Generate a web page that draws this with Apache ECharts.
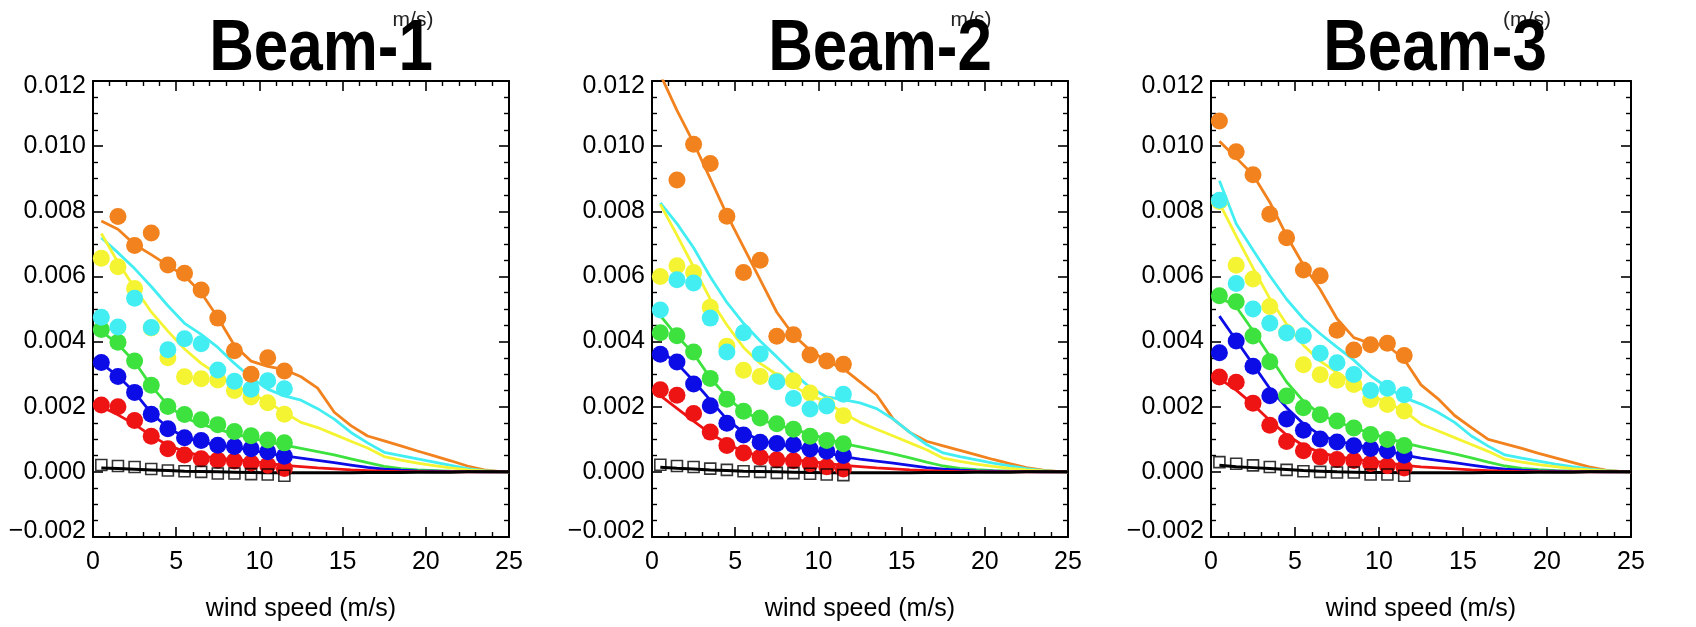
<!DOCTYPE html>
<html><head><meta charset="utf-8">
<script src="https://cdn.jsdelivr.net/npm/echarts@6/dist/echarts.min.js"></script>
<style>html,body{margin:0;padding:0;background:#fff}#c{width:1696px;height:627px}</style>
</head><body><div id="c"></div>
<script>
// ---------- data ----------
const TITLES = ['Beam-1', 'Beam-2', 'Beam-3'];
const X_TICKS = [0, 5, 10, 15, 20, 25];
const Y_TICKS = [-0.002, 0.000, 0.002, 0.004, 0.006, 0.008, 0.010, 0.012];
const DOT_X = [0.5, 1.5, 2.5, 3.5, 4.5, 5.5, 6.5, 7.5, 8.5, 9.5, 10.5, 11.5];
const LINE_X = [0.5, 1.5, 2.5, 3.5, 4.5, 5.5, 6.5, 7.5, 8.5, 9.5, 10.5, 11.5, 12.5, 13.5, 14.5, 15.5, 16.5, 17.5, 18.5, 19.5, 20.5, 21.5, 22.5, 23.5, 24.5, 25];

// Beam-1 model lines
const B1_LINE_ORANGE = [0.00770,0.00745,0.00698,0.00667,0.00634,0.00602,0.00550,0.00474,0.00388,0.00340,0.00324,0.00314,0.00292,0.00257,0.00183,0.00142,0.00110,0.00095,0.00080,0.00064,0.00049,0.00034,0.00018,0.00006,0.00001,0];
const B1_LINE_CYAN   = [0.00719,0.00673,0.00624,0.00569,0.00510,0.00456,0.00422,0.00382,0.00333,0.00289,0.00254,0.00233,0.00220,0.00194,0.00162,0.00121,0.00089,0.00060,0.00050,0.00040,0.00030,0.00020,0.00010,0.00004,0.00001,0];
const B1_LINE_YELLOW = [0.00732,0.00643,0.00565,0.00491,0.00432,0.00377,0.00333,0.00299,0.00264,0.00239,0.00215,0.00182,0.00152,0.00136,0.00115,0.00094,0.00073,0.00047,0.00036,0.00027,0.00019,0.00012,0.00006,0.00003,0.00001,0];
const B1_LINE_GREEN  = [0.00432,0.00392,0.00338,0.00264,0.00205,0.00166,0.00146,0.00131,0.00116,0.00104,0.00092,0.00082,0.00072,0.00062,0.00052,0.00040,0.00028,0.00017,0.00010,0.00006,0.00004,0.00002,0.00001,0.000005,0,0];
const B1_LINE_BLUE   = [0.00333,0.00294,0.00244,0.00180,0.00136,0.00106,0.00092,0.00082,0.00075,0.00067,0.00057,0.00049,0.00042,0.00035,0.00028,0.00021,0.00014,0.00008,0.00005,0.00003,0.00002,0.00001,0.000005,0,0,0];
const B1_LINE_RED    = [0.00200,0.00175,0.00146,0.00111,0.00082,0.00062,0.00049,0.00042,0.00037,0.00033,0.00026,0.00020,0.00016,0.00012,0.00009,0.00006,0.00004,0.00002,0.00001,0.000005,0,0,0,0,0,0];
const B1_LINE_BLACK  = [0.00012,0.00010,0.00008,0.00006,0.00004,0.00002,0.00001,0,-0.00001,-0.00002,-0.00003,-0.00003,-0.00003,-0.00003,-0.00003,-0.00003,-0.00002,-0.00002,-0.00002,-0.00001,-0.00001,-0.00001,0,0,0,0];
// Beam-1 observed points
const B1_DOT_ORANGE = [null,0.00784,0.00695,0.00733,0.00635,0.00610,0.00558,0.00472,0.00372,0.00300,0.00350,0.00310];
const B1_DOT_YELLOW = [0.00656,0.00630,0.00563,0.00442,0.00350,0.00292,0.00286,0.00282,0.00250,0.00230,0.00212,0.00177];
const B1_DOT_CYAN   = [0.00475,0.00445,0.00533,0.00443,0.00375,0.00409,0.00393,0.00313,0.00278,0.00254,0.00280,0.00255];
const B1_DOT_GREEN  = [0.00437,0.00398,0.00340,0.00266,0.00201,0.00176,0.00160,0.00145,0.00124,0.00111,0.00098,0.00089];
const B1_DOT_BLUE   = [0.00336,0.00293,0.00244,0.00177,0.00132,0.00105,0.00096,0.00082,0.00078,0.00071,0.00062,0.00048];
const B1_DOT_RED    = [0.00205,0.00200,0.00158,0.00109,0.00071,0.00052,0.00040,0.00036,0.00033,0.00027,0.00020,0.00010];
const B1_SQUARES    = [0.00021,0.00018,0.00015,0.00009,0.00004,0.00002,0.00000,-0.00005,-0.00005,-0.00007,-0.00008,-0.00012];

// Beam-2 model lines
const B2_LINE_ORANGE = [0.01220,0.01110,0.01010,0.00900,0.00790,0.00690,0.00590,0.00490,0.00420,0.00373,0.00340,0.00317,0.00276,0.00236,0.00162,0.00121,0.00094,0.00080,0.00066,0.00052,0.00038,0.00025,0.00013,0.00005,0.00001,0];
const B2_LINE_CYAN   = [0.00826,0.00762,0.00688,0.00599,0.00520,0.00456,0.00402,0.00353,0.00303,0.00259,0.00230,0.00222,0.00212,0.00194,0.00162,0.00121,0.00084,0.00058,0.00047,0.00037,0.00027,0.00018,0.00010,0.00004,0.00001,0];
const B2_LINE_YELLOW = [0.00821,0.00727,0.00629,0.00530,0.00451,0.00382,0.00333,0.00299,0.00264,0.00234,0.00215,0.00180,0.00152,0.00131,0.00110,0.00089,0.00068,0.00042,0.00032,0.00024,0.00017,0.00011,0.00006,0.00003,0.00001,0];
const B2_LINE_GREEN  = [0.00480,0.00417,0.00363,0.00289,0.00230,0.00185,0.00161,0.00144,0.00131,0.00116,0.00101,0.00087,0.00077,0.00066,0.00055,0.00043,0.00030,0.00018,0.00011,0.00007,0.00004,0.00002,0.00001,0.000005,0,0];
const B2_LINE_BLUE   = [0.00372,0.00333,0.00279,0.00220,0.00161,0.00121,0.00097,0.00085,0.00077,0.00069,0.00059,0.00047,0.00039,0.00033,0.00027,0.00020,0.00013,0.00008,0.00005,0.00003,0.00002,0.00001,0.000005,0,0,0];
const B2_LINE_RED    = [0.00234,0.00195,0.00156,0.00118,0.00087,0.00062,0.00049,0.00042,0.00037,0.00032,0.00026,0.00020,0.00016,0.00012,0.00009,0.00006,0.00004,0.00002,0.00001,0.000005,0,0,0,0,0,0];
const B2_LINE_BLACK  = [0.00014,0.00011,0.00009,0.00006,0.00004,0.00002,0.00001,0,-0.00001,-0.00002,-0.00003,-0.00003,-0.00003,-0.00003,-0.00003,-0.00003,-0.00002,-0.00002,-0.00002,-0.00001,-0.00001,-0.00001,0,0,0,0];
// Beam-2 observed points
const B2_DOT_ORANGE = [null,0.00896,0.01006,0.00947,0.00785,0.00612,0.00650,0.00416,0.00421,0.00359,0.00340,0.00330];
const B2_DOT_YELLOW = [0.00600,0.00633,0.00612,0.00505,0.00386,0.00312,0.00293,0.00280,0.00280,0.00242,0.00205,0.00172];
const B2_DOT_CYAN   = [0.00497,0.00590,0.00580,0.00472,0.00368,0.00427,0.00362,0.00277,0.00225,0.00193,0.00202,0.00238];
const B2_DOT_GREEN  = [0.00427,0.00418,0.00368,0.00287,0.00223,0.00186,0.00165,0.00148,0.00131,0.00109,0.00096,0.00086];
const B2_DOT_BLUE   = [0.00361,0.00337,0.00270,0.00203,0.00149,0.00113,0.00091,0.00087,0.00083,0.00070,0.00063,0.00050];
const B2_DOT_RED    = [0.00252,0.00235,0.00179,0.00122,0.00081,0.00058,0.00045,0.00037,0.00034,0.00025,0.00016,0.00009];
const B2_SQUARES    = [0.00022,0.00018,0.00015,0.00010,0.00006,0.00002,0.00000,-0.00003,-0.00004,-0.00006,-0.00008,-0.00010];

// Beam-3 model lines
const B3_LINE_ORANGE = [0.01015,0.00964,0.00912,0.00828,0.00725,0.00635,0.00560,0.00470,0.00412,0.00394,0.00388,0.00345,0.00267,0.00225,0.00173,0.00136,0.00100,0.00086,0.00072,0.00057,0.00043,0.00029,0.00015,0.00005,0.00001,0];
const B3_LINE_CYAN   = [0.00894,0.00762,0.00681,0.00602,0.00530,0.00470,0.00424,0.00383,0.00343,0.00295,0.00259,0.00228,0.00208,0.00183,0.00152,0.00110,0.00079,0.00052,0.00042,0.00033,0.00024,0.00016,0.00009,0.00004,0.00001,0];
const B3_LINE_YELLOW = [0.00825,0.00724,0.00626,0.00532,0.00453,0.00389,0.00340,0.00305,0.00271,0.00236,0.00212,0.00187,0.00147,0.00126,0.00105,0.00084,0.00063,0.00039,0.00030,0.00022,0.00016,0.00010,0.00006,0.00003,0.00001,0];
const B3_LINE_GREEN  = [0.00537,0.00507,0.00433,0.00355,0.00276,0.00217,0.00177,0.00153,0.00136,0.00118,0.00103,0.00089,0.00077,0.00066,0.00055,0.00043,0.00030,0.00018,0.00011,0.00007,0.00004,0.00002,0.00001,0.000005,0,0];
const B3_LINE_BLUE   = [0.00478,0.00404,0.00330,0.00256,0.00197,0.00148,0.00113,0.00094,0.00084,0.00074,0.00064,0.00051,0.00042,0.00035,0.00028,0.00021,0.00014,0.00008,0.00005,0.00003,0.00002,0.00001,0.000005,0,0,0];
const B3_LINE_RED    = [0.00286,0.00251,0.00207,0.00158,0.00113,0.00081,0.00059,0.00047,0.00039,0.00033,0.00028,0.00020,0.00015,0.00012,0.00009,0.00006,0.00004,0.00002,0.00001,0.000005,0,0,0,0,0,0];
const B3_LINE_BLACK  = [0.00020,0.00016,0.00013,0.00010,0.00007,0.00004,0.00002,0,-0.00001,-0.00002,-0.00002,-0.00003,-0.00003,-0.00003,-0.00003,-0.00003,-0.00002,-0.00002,-0.00002,-0.00001,-0.00001,-0.00001,0,0,0,0];
// Beam-3 observed points
const B3_DOT_ORANGE = [0.01077,0.00983,0.00912,0.00791,0.00719,0.00620,0.00602,0.00435,0.00374,0.00390,0.00395,0.00357];
const B3_DOT_YELLOW = [0.00830,0.00634,0.00592,0.00508,0.00428,0.00329,0.00298,0.00281,0.00268,0.00222,0.00207,0.00187];
const B3_DOT_CYAN   = [0.00834,0.00578,0.00500,0.00456,0.00426,0.00418,0.00364,0.00335,0.00299,0.00250,0.00257,0.00237];
const B3_DOT_GREEN  = [0.00541,0.00522,0.00417,0.00338,0.00233,0.00197,0.00175,0.00156,0.00135,0.00115,0.00099,0.00081];
const B3_DOT_BLUE   = [0.00366,0.00402,0.00324,0.00234,0.00162,0.00128,0.00101,0.00092,0.00080,0.00072,0.00065,0.00051];
const B3_DOT_RED    = [0.00291,0.00275,0.00211,0.00143,0.00093,0.00065,0.00046,0.00038,0.00035,0.00026,0.00019,0.00012];
const B3_SQUARES    = [0.00030,0.00025,0.00020,0.00015,0.00006,0.00002,0.00000,-0.00002,-0.00002,-0.00008,-0.00008,-0.00012];

// ---------- styling / layout ----------
const COLORS = {orange:'#f2821e', cyan:'#42eef2', yellow:'#f4f432', green:'#3ee23e', blue:'#0c0ce6', red:'#ee1414', black:'#000000'};
const GRIDS = [
  {left: 93,  top: 81, width: 416, height: 473},
  {left: 652, top: 81, width: 416, height: 473},
  {left: 1211, top: 81, width: 420, height: 473}
];
const TITLE_X = [321, 880, 1435];
const FONT = "'Liberation Sans', Helvetica, Arial, sans-serif";

const PANELS = [
  {lines:{orange:B1_LINE_ORANGE,cyan:B1_LINE_CYAN,yellow:B1_LINE_YELLOW,green:B1_LINE_GREEN,blue:B1_LINE_BLUE,red:B1_LINE_RED,black:B1_LINE_BLACK},
   dots:{red:B1_DOT_RED,blue:B1_DOT_BLUE,green:B1_DOT_GREEN,yellow:B1_DOT_YELLOW,cyan:B1_DOT_CYAN,orange:B1_DOT_ORANGE}, squares:B1_SQUARES},
  {lines:{orange:B2_LINE_ORANGE,cyan:B2_LINE_CYAN,yellow:B2_LINE_YELLOW,green:B2_LINE_GREEN,blue:B2_LINE_BLUE,red:B2_LINE_RED,black:B2_LINE_BLACK},
   dots:{red:B2_DOT_RED,blue:B2_DOT_BLUE,green:B2_DOT_GREEN,yellow:B2_DOT_YELLOW,cyan:B2_DOT_CYAN,orange:B2_DOT_ORANGE}, squares:B2_SQUARES},
  {lines:{orange:B3_LINE_ORANGE,cyan:B3_LINE_CYAN,yellow:B3_LINE_YELLOW,green:B3_LINE_GREEN,blue:B3_LINE_BLUE,red:B3_LINE_RED,black:B3_LINE_BLACK},
   dots:{red:B3_DOT_RED,blue:B3_DOT_BLUE,green:B3_DOT_GREEN,yellow:B3_DOT_YELLOW,cyan:B3_DOT_CYAN,orange:B3_DOT_ORANGE}, squares:B3_SQUARES}
];

function pairs(xs, ys){ return xs.map((x,i)=>[x, ys[i]]); }
const Y_MIN = Y_TICKS[0], Y_MAX = Y_TICKS[Y_TICKS.length-1];
function yFmt(v){
  const a = Math.abs(v) < 1e-9 ? 0 : v;
  const s = (a < 0 ? '\u2212' : '') + Math.abs(a).toFixed(3);
  if (Math.abs(v - Y_MAX) < 1e-9) return '{top|' + s + '}';
  if (Math.abs(v - Y_MIN) < 1e-9) return '{bot|' + s + '}';
  return s;
}

const axisLine = {show:true, onZero:false, lineStyle:{color:'#000', width:2}};
const tick = {show:true, inside:true, length:10, lineStyle:{color:'#000', width:1.6}};
const minor = {show:true, length:5, lineStyle:{color:'#000', width:1.4}};
const labelFont = {color:'#000', fontSize:25, fontFamily:FONT};
const xAxes = [], yAxes = [], series = [], graphics = [];

GRIDS.forEach((g, i) => {
  const xBase = {type:'value', gridIndex:i, min:X_TICKS[0], max:X_TICKS[X_TICKS.length-1], interval:X_TICKS[1]-X_TICKS[0],
    axisLine, axisTick:tick, minorTick:Object.assign({splitNumber:5}, minor), splitLine:{show:false}, minorSplitLine:{show:false}};
  xAxes.push(Object.assign({}, xBase, {position:'bottom',
    axisLabel:Object.assign({margin:13}, labelFont),
    name:'wind speed (m/s)', nameLocation:'middle', nameGap:60,
    nameTextStyle:Object.assign({}, labelFont)}));
  xAxes.push(Object.assign({}, xBase, {position:'top', axisLabel:{show:false}}));
  const yBase = {type:'value', gridIndex:i, min:Y_MIN, max:Y_MAX, interval:Y_TICKS[1]-Y_TICKS[0],
    axisLine, axisTick:tick, minorTick:Object.assign({splitNumber:4}, minor), splitLine:{show:false}, minorSplitLine:{show:false}};
  yAxes.push(Object.assign({}, yBase, {position:'left',
    axisLabel:Object.assign({margin:7, formatter:yFmt,
      rich:{top:Object.assign({padding:[11,0,0,0]}, labelFont), bot:Object.assign({padding:[0,0,11,0]}, labelFont)}}, labelFont)}));
  yAxes.push(Object.assign({}, yBase, {position:'right', axisLabel:{show:false}}));

  const p = PANELS[i];
  const xi = i*2, yi = i*2;
  Object.keys(p.lines).forEach(k => {
    series.push({type:'line', xAxisIndex:xi, yAxisIndex:yi, data:pairs(LINE_X, p.lines[k]), showSymbol:false, symbol:'none',
      lineStyle:{color:COLORS[k], width:k==='black'?3:2.8}, z:2, silent:true, animation:false, clip:true});
  });
  Object.keys(p.dots).forEach((k, j) => {
    series.push({type:'scatter', xAxisIndex:xi, yAxisIndex:yi, data:pairs(DOT_X, p.dots[k]).filter(d=>d[1]!==null),
      symbol:'circle', symbolSize:17, itemStyle:{color:COLORS[k], opacity:1}, z:3+j, animation:false});
  });
  series.push({type:'scatter', xAxisIndex:xi, yAxisIndex:yi, data:pairs(DOT_X, p.squares), symbol:'rect', symbolSize:11,
    itemStyle:{color:'rgba(0,0,0,0)', borderColor:'#000', borderWidth:1.6}, z:12, animation:false});

  graphics.push({type:'text', x:TITLE_X[i], y:50, scaleX:0.86, z:100,
    style:{text:TITLES[i], font:"bold 72px 'Liberation Sans', Arial, sans-serif", fill:'#000', textAlign:'center', textVerticalAlign:'middle'}});
});
graphics.push({type:'text', x:413, y:20, z:90, style:{text:'m/s)', font:"21px 'Liberation Sans', Arial", fill:'#222', textAlign:'center', textVerticalAlign:'middle'}});
graphics.push({type:'text', x:971, y:20, z:90, style:{text:'m/s)', font:"21px 'Liberation Sans', Arial", fill:'#222', textAlign:'center', textVerticalAlign:'middle'}});
graphics.push({type:'text', x:1527, y:20, z:90, style:{text:'(m/s)', font:"21px 'Liberation Sans', Arial", fill:'#222', textAlign:'center', textVerticalAlign:'middle'}});

const chart = echarts.init(document.getElementById('c'), null, {renderer:'canvas'});
chart.setOption({
  animation:false,
  backgroundColor:'#fff',
  grid: GRIDS.map(g => Object.assign({containLabel:false}, g)),
  xAxis: xAxes, yAxis: yAxes, series, graphic: graphics
});
</script></body></html>
